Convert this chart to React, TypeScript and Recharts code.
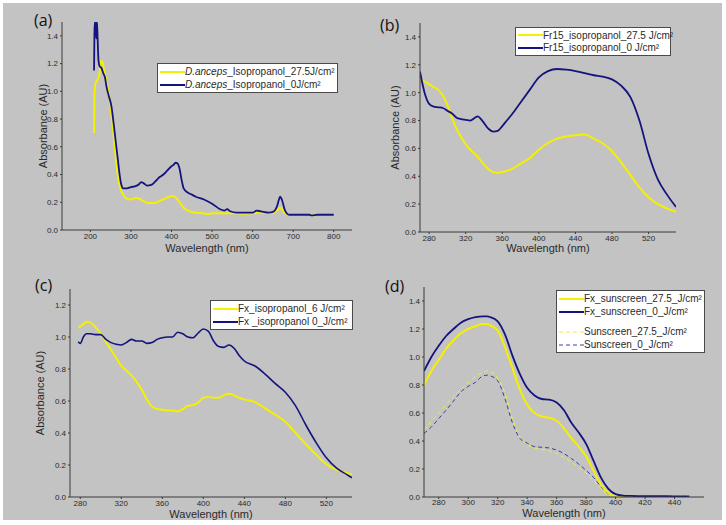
import { LineChart, Line, XAxis, YAxis } from 'recharts';

// panel (a) – D. anceps in isopropanol
const A_WL_YELLOW = [209, 210, 212, 214, 217, 220, 223, 226, 230, 234, 238, 242, 246, 250, 253, 256, 260, 265, 270, 275, 280, 290, 300, 310, 315, 320, 330, 340, 350, 360, 370, 380, 390, 400, 405, 410, 415, 420, 430, 440, 450, 460, 480, 490, 500, 520, 540, 560, 580, 600, 610, 620, 640, 650, 660, 665, 668, 672, 680, 690, 700, 740, 800];
const A_YELLOW = [0.7, 0.98, 1.05, 1.07, 1.08, 1.1, 1.14, 1.22, 1.21, 1.15, 1.1, 1.04, 0.97, 0.88, 0.8, 0.72, 0.6, 0.45, 0.35, 0.29, 0.26, 0.225, 0.22, 0.23, 0.23, 0.225, 0.21, 0.195, 0.195, 0.195, 0.21, 0.22, 0.235, 0.245, 0.245, 0.235, 0.22, 0.2, 0.16, 0.14, 0.13, 0.125, 0.12, 0.115, 0.12, 0.12, 0.12, 0.12, 0.118, 0.12, 0.125, 0.125, 0.12, 0.125, 0.14, 0.155, 0.16, 0.15, 0.12, 0.11, 0.108, 0.108, 0.108];
const A_WL_BLUE = [209, 210, 211, 213, 214.5, 216, 217, 220, 223, 227, 232, 236, 240, 245, 252, 256, 260, 264, 268, 272, 276, 281, 290, 300, 310, 320, 325, 330, 340, 350, 360, 370, 380, 390, 400, 405, 410, 415, 420, 425, 430, 440, 450, 460, 480, 500, 520, 530, 537, 545, 560, 580, 600, 610, 620, 640, 650, 660, 665, 668, 672, 680, 690, 700, 720, 740, 745, 760, 780, 800];
const A_BLUE = [1.15, 1.42, 1.5, 1.5, 1.38, 1.5, 1.45, 1.22, 1.18, 1.17, 1.13, 1.1, 1.03, 0.97, 0.89, 0.8, 0.7, 0.6, 0.5, 0.4, 0.33, 0.3, 0.3, 0.31, 0.315, 0.33, 0.345, 0.34, 0.32, 0.325, 0.35, 0.38, 0.4, 0.43, 0.46, 0.47, 0.485, 0.48, 0.44, 0.36, 0.3, 0.27, 0.255, 0.24, 0.22, 0.19, 0.15, 0.14, 0.15, 0.135, 0.125, 0.125, 0.125, 0.14, 0.135, 0.125, 0.13, 0.17, 0.22, 0.24, 0.22, 0.14, 0.11, 0.11, 0.11, 0.11, 0.105, 0.11, 0.11, 0.11];

// panel (b) – Fr15 in isopropanol
const B_WL = [270, 275, 280, 285, 290, 295, 300, 305, 310, 315, 320, 325, 330, 333, 338, 345, 350, 355, 360, 365, 370, 380, 390, 400, 410, 420, 430, 440, 450, 460, 470, 480, 490, 500, 510, 520, 530, 540, 550];
const B_YELLOW = [1.1, 1.08, 1.06, 1.04, 1.02, 0.98, 0.91, 0.82, 0.74, 0.68, 0.63, 0.59, 0.56, 0.54, 0.5, 0.45, 0.43, 0.425, 0.43, 0.44, 0.45, 0.49, 0.53, 0.59, 0.64, 0.67, 0.685, 0.695, 0.7, 0.67, 0.635, 0.58, 0.5, 0.41, 0.32, 0.25, 0.2, 0.17, 0.145];
const B_BLUE = [1.15, 1.0, 0.92, 0.9, 0.895, 0.89, 0.87, 0.85, 0.82, 0.81, 0.805, 0.8, 0.82, 0.83, 0.8, 0.74, 0.72, 0.725, 0.76, 0.8, 0.84, 0.93, 1.02, 1.11, 1.155, 1.17, 1.165, 1.155, 1.14, 1.125, 1.115, 1.095, 1.05, 0.97, 0.8, 0.56, 0.38, 0.27, 0.18];

// panel (c) – Fx in isopropanol
const C_WL = [278, 280, 283, 286, 290, 295, 300, 305, 310, 315, 320, 325, 330, 335, 340, 345, 350, 355, 360, 365, 370, 375, 380, 385, 390, 395, 400, 405, 410, 415, 420, 425, 430, 435, 440, 450, 460, 470, 480, 490, 500, 510, 520, 530, 540, 545];
const C_YELLOW = [1.06, 1.065, 1.08, 1.095, 1.09, 1.06, 1.02, 0.97, 0.92, 0.87, 0.82, 0.79, 0.76, 0.72, 0.67, 0.61, 0.565, 0.55, 0.545, 0.54, 0.54, 0.535, 0.55, 0.57, 0.575, 0.59, 0.62, 0.625, 0.62, 0.62, 0.635, 0.645, 0.635, 0.62, 0.61, 0.595, 0.555, 0.515, 0.47, 0.4, 0.33, 0.265, 0.205, 0.17, 0.15, 0.14];
const C_BLUE = [0.97, 0.96, 1.0, 1.02, 1.02, 1.015, 1.015, 0.985, 0.965, 0.955, 0.95, 0.965, 0.985, 0.975, 0.975, 0.96, 0.965, 0.985, 0.995, 1.0, 1.0, 1.03, 1.02, 1.0, 0.995, 1.025, 1.05, 1.035, 0.975, 0.94, 0.935, 0.95, 0.93, 0.885, 0.85, 0.82, 0.77, 0.71, 0.655, 0.57, 0.45, 0.34, 0.245, 0.18, 0.14, 0.12];

// panel (d) – Fx in sunscreen vs. sunscreen alone
const D_WL = [270, 275, 280, 285, 290, 295, 300, 305, 310, 313, 315, 320, 325, 330, 335, 340, 345, 350, 355, 360, 365, 370, 375, 380, 385, 390, 395, 400, 405, 410, 420, 430, 440, 450];
const D_FX_YELLOW = [0.8, 0.9, 0.98, 1.06, 1.12, 1.17, 1.2, 1.22, 1.235, 1.235, 1.225, 1.19, 1.07, 0.92, 0.77, 0.66, 0.6, 0.575, 0.565, 0.545, 0.49, 0.42, 0.36, 0.29, 0.19, 0.09, 0.03, 0.008, 0.005, 0.005, 0.004, 0.004, 0.004, 0.004];
const D_FX_BLUE = [0.9, 1.0, 1.08, 1.15, 1.2, 1.245, 1.27, 1.285, 1.29, 1.29, 1.285, 1.255, 1.16, 1.01, 0.88, 0.78, 0.725, 0.7, 0.695, 0.675, 0.62, 0.53, 0.46, 0.38, 0.26, 0.14, 0.06, 0.02, 0.01, 0.008, 0.006, 0.006, 0.005, 0.005];
const D_SUN_YELLOW = [0.48, 0.54, 0.6, 0.66, 0.72, 0.77, 0.815, 0.86, 0.89, 0.9, 0.895, 0.85, 0.74, 0.56, 0.43, 0.375, 0.35, 0.34, 0.33, 0.31, 0.28, 0.25, 0.21, 0.17, 0.12, 0.06, 0.015, 0.005, 0.005, 0.005, 0.005, 0.005, 0.005, 0.005];
const D_SUN_BLUE = [0.455, 0.5, 0.56, 0.62, 0.685, 0.75, 0.79, 0.82, 0.865, 0.87, 0.865, 0.83, 0.7, 0.53, 0.42, 0.385, 0.36, 0.355, 0.35, 0.335, 0.31, 0.275, 0.235, 0.19, 0.14, 0.075, 0.025, 0.01, 0.005, 0.005, 0.005, 0.005, 0.005, 0.005];

const A_XTICKS = [200, 300, 400, 500, 600, 700, 800];
const BC_XTICKS = [280, 320, 360, 400, 440, 480, 520];
const D_XTICKS = [280, 300, 320, 340, 360, 380, 400, 420, 440];
const Y_TICKS_14 = [0, 0.2, 0.4, 0.6, 0.8, 1.0, 1.2, 1.4];
const Y_TICKS_12 = [0, 0.2, 0.4, 0.6, 0.8, 1.0, 1.2];

const A_NAMES = ['D.anceps_Isopropanol_27.5J/cm²', 'D.anceps_Isopropanol_0J/cm²'];
const B_NAMES = ['Fr15_isopropanol_27.5 J/cm²', 'Fr15_isopropanol_0 J/cm²'];
const C_NAMES = ['Fx_isopropanol_6 J/cm²', 'Fx _isopropanol 0_J/cm²'];
const D_NAMES = ['Fx_sunscreen_27.5_J/cm²', 'Fx_sunscreen_0_J/cm²', 'Sunscreen_27.5_J/cm²', 'Sunscreen_0_J/cm²'];

const YELLOW = '#f4f000';
const NAVY = '#14147e';
const YELLOW_DASH = '#f0ee3a';
const NAVY_DASH = '#3c3ca0';
const AXIS = '#3a3a3a';
const TEXT = '#2a2a2a';
const FONT = '"Liberation Sans", Arial, sans-serif';

const toPoints = (xs: number[], ys: number[]) => xs.map((x, i) => ({ x, y: ys[i] }));

type Series = { x: number[]; y: number[]; color: string; width: number; dash?: string };

interface PanelProps {
  left: number;
  top: number;
  width: number;
  height: number;
  margin: { top: number; right: number; bottom: number; left: number };
  xHeight: number;
  xDomain: [number, number];
  xTicks: number[];
  xLabelOffset: number;
  xTickMargin?: number;
  yDomain: [number, number];
  yTicks: number[];
  yLabelOffset?: number;
  series: Series[];
}

function Panel(p: PanelProps) {
  const tick = { fontSize: 8, fill: TEXT, fontFamily: FONT };
  return (
    <div style={{ position: 'absolute', left: p.left, top: p.top, width: p.width, height: p.height }}>
      <LineChart width={p.width} height={p.height} margin={p.margin}>
        <XAxis
          type="number"
          dataKey="x"
          domain={p.xDomain}
          ticks={p.xTicks}
          allowDataOverflow
          height={p.xHeight}
          stroke={AXIS}
          tick={tick}
          tickSize={2}
          tickMargin={p.xTickMargin ?? 1}
          label={{ value: 'Wavelength (nm)', position: 'insideBottom', offset: p.xLabelOffset, fill: TEXT, fontSize: 11, fontFamily: FONT }}
        />
        <YAxis
          type="number"
          dataKey="y"
          domain={p.yDomain}
          ticks={p.yTicks}
          allowDataOverflow
          width={30}
          stroke={AXIS}
          tick={tick}
          tickSize={2}
          tickMargin={2}
          tickFormatter={(v: number) => v.toFixed(1)}
          label={
            p.yLabelOffset === undefined
              ? undefined
              : {
                  value: 'Absorbance (AU)',
                  angle: -90,
                  position: 'insideLeft',
                  offset: p.yLabelOffset,
                  fill: TEXT,
                  fontSize: 11,
                  fontFamily: FONT,
                  style: { textAnchor: 'middle' },
                }
          }
        />
        {p.series.map((s, i) => (
          <Line
            key={i}
            data={toPoints(s.x, s.y)}
            dataKey="y"
            type="monotone"
            stroke={s.color}
            strokeWidth={s.width}
            strokeDasharray={s.dash}
            dot={false}
            activeDot={false}
            isAnimationActive={false}
          />
        ))}
      </LineChart>
    </div>
  );
}

function renderName(name: string) {
  // species name is italic in panel (a)
  if (name.startsWith('D.anceps')) {
    return (
      <>
        <i>D.anceps</i>
        {name.slice(8)}
      </>
    );
  }
  return name;
}

interface LegendBoxProps {
  left: number;
  top: number;
  width: number;
  rows: { name: string; color: string; dash?: boolean; gapBefore?: number }[];
  rowHeight: number;
}

function LegendBox({ left, top, width, rows, rowHeight }: LegendBoxProps) {
  return (
    <div
      style={{
        position: 'absolute',
        left,
        top,
        width,
        background: '#fff',
        border: '1px solid #4a4a4a',
        boxSizing: 'border-box',
        padding: '1px 2px',
        fontFamily: FONT,
        fontSize: 10,
        color: TEXT,
      }}
    >
      {rows.map((r, i) => (
        <div key={i} style={{ display: 'flex', alignItems: 'center', height: rowHeight, marginTop: r.gapBefore || 0, whiteSpace: 'nowrap' }}>
          <svg width={25} height={4} style={{ flex: 'none' }}>
            <line x1={0} y1={2} x2={25} y2={2} stroke={r.color} strokeWidth={r.dash ? 1 : 2} strokeDasharray={r.dash ? '4 3' : undefined} />
          </svg>
          <span>{renderName(r.name)}</span>
        </div>
      ))}
    </div>
  );
}

function Letter({ left, top, text }: { left: number; top: number; text: string }) {
  return (
    <div style={{ position: 'absolute', left, top, fontFamily: '"Open Sans", "Noto Sans", sans-serif', fontSize: 16, color: '#111', lineHeight: '16px' }}>
      {text}
    </div>
  );
}

export default function App() {
  return (
    <div style={{ position: 'absolute', left: 0, top: 0, width: 726, height: 525, background: '#fff', overflow: 'hidden' }}>
      <div style={{ position: 'absolute', left: 3, top: 3, width: 719, height: 517, background: '#c3c3c3' }} />

      <Panel
        left={0}
        top={0}
        width={363}
        height={262}
        margin={{ top: 22, right: 11, bottom: 2, left: 32 }}
        xHeight={30}
        xDomain={[130, 845]}
        xTicks={A_XTICKS}
        xLabelOffset={8}
        yDomain={[0, 1.5]}
        yTicks={Y_TICKS_14}
        yLabelOffset={11}
        series={[
          { x: A_WL_YELLOW, y: A_YELLOW, color: YELLOW, width: 2 },
          { x: A_WL_BLUE, y: A_BLUE, color: NAVY, width: 1.8 },
        ]}
      />
      <Panel
        left={363}
        top={0}
        width={363}
        height={262}
        margin={{ top: 23, right: 50, bottom: 0, left: 27 }}
        xHeight={30}
        xDomain={[270, 550]}
        xTicks={BC_XTICKS}
        xLabelOffset={10}
        yDomain={[0, 1.5]}
        yTicks={Y_TICKS_14}
        yLabelOffset={5}
        series={[
          { x: B_WL, y: B_YELLOW, color: YELLOW, width: 2 },
          { x: B_WL, y: B_BLUE, color: NAVY, width: 1.8 },
        ]}
      />
      <Panel
        left={0}
        top={262}
        width={363}
        height={263}
        margin={{ top: 27, right: 11, bottom: 0, left: 40 }}
        xHeight={28}
        xDomain={[270, 545]}
        xTicks={BC_XTICKS}
        xLabelOffset={7}
        yDomain={[0, 1.3]}
        yTicks={Y_TICKS_12}
        yLabelOffset={0}
        series={[
          { x: C_WL, y: C_YELLOW, color: YELLOW, width: 2 },
          { x: C_WL, y: C_BLUE, color: NAVY, width: 1.6 },
        ]}
      />
      <Panel
        left={363}
        top={262}
        width={363}
        height={263}
        margin={{ top: 25, right: 22, bottom: 0, left: 31 }}
        xHeight={28}
        xDomain={[270, 460]}
        xTicks={D_XTICKS}
        xTickMargin={0}
        xLabelOffset={8}
        yDomain={[0, 1.5]}
        yTicks={Y_TICKS_14}
        series={[
          { x: D_WL, y: D_SUN_YELLOW, color: YELLOW_DASH, width: 1, dash: '4 3' },
          { x: D_WL, y: D_SUN_BLUE, color: NAVY_DASH, width: 1, dash: '4 3' },
          { x: D_WL, y: D_FX_YELLOW, color: YELLOW, width: 2 },
          { x: D_WL, y: D_FX_BLUE, color: NAVY, width: 1.8 },
        ]}
      />

      <Letter left={34} top={12} text="(a)" />
      <Letter left={380} top={17} text="(b)" />
      <Letter left={35} top={277} text="(c)" />
      <Letter left={385} top={278} text="(d)" />

      <LegendBox
        left={157}
        top={63}
        width={181}
        rowHeight={13}
        rows={[
          { name: A_NAMES[0], color: YELLOW },
          { name: A_NAMES[1], color: NAVY },
        ]}
      />
      <LegendBox
        left={515}
        top={27}
        width={156}
        rowHeight={12.5}
        rows={[
          { name: B_NAMES[0], color: YELLOW },
          { name: B_NAMES[1], color: NAVY },
        ]}
      />
      <LegendBox
        left={210}
        top={300}
        width={143}
        rowHeight={13}
        rows={[
          { name: C_NAMES[0], color: YELLOW },
          { name: C_NAMES[1], color: NAVY },
        ]}
      />
      <LegendBox
        left={556}
        top={290}
        width={149}
        rowHeight={13}
        rows={[
          { name: D_NAMES[0], color: YELLOW },
          { name: D_NAMES[1], color: NAVY },
          { name: D_NAMES[2], color: YELLOW_DASH, dash: true, gapBefore: 7 },
          { name: D_NAMES[3], color: NAVY_DASH, dash: true },
        ]}
      />
    </div>
  );
}
